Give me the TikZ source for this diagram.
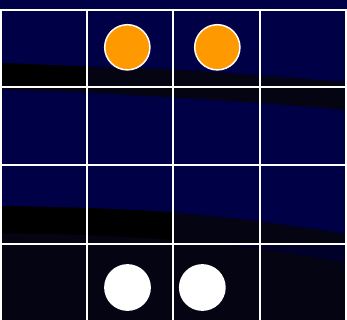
\documentclass[tikz,border=0pt]{standalone}
\usetikzlibrary{shapes}

\definecolor{nightsky}{RGB}{0,0,70}
\definecolor{haze}{RGB}{4,4,18}
\definecolor{dusk}{RGB}{0,0,40}
\definecolor{sunorange}{RGB}{255,153,0}

\tikzset{
  gridline/.style={white,line width=2pt},
  sun/.style={circle,fill=sunorange,draw=white,line width=1.5pt,minimum size=45.2pt,inner sep=0pt},
  moon/.style={circle,fill=white,minimum size=46.8pt,inner sep=0pt}
}

\def\bandone{plot[smooth] coordinates {(0,63) (86,66.5) (173,69.5) (260,75.5) (347,82)}
  -- plot[smooth] coordinates {(347,110) (260,103) (173,97.5) (86,92.5) (0,90)} -- cycle}
\def\bandtwo{plot[smooth] coordinates {(0,206) (86,208) (173,212.5) (260,221.5) (347,234)}
  -- plot[smooth] coordinates {(347,263) (260,249) (173,240) (86,235) (0,233)} -- cycle}

\begin{document}
\begin{tikzpicture}[x=1pt,y=-1pt]
\useasboundingbox (0,0) rectangle (347,320);
\fill[nightsky] (0,0) rectangle (347,320);

% upper hill
\fill[haze] \bandone;
\begin{scope}
\clip (0,10) rectangle (86.7,86.8);
\fill[black] \bandone;
\end{scope}

% lower hill
\fill[haze] plot[smooth] coordinates {(0,206) (86,208) (173,212.5) (260,221.5) (347,234)}
  -- (347,320) -- (0,320) -- cycle;
\begin{scope}
\clip (0,165) rectangle (173.1,243.6);
\fill[black] \bandtwo;
\end{scope}
\begin{scope}
\clip (173.1,243.6) rectangle (347,320);
\fill[dusk] \bandtwo;
\end{scope}

% grid
\foreach \gx in {0.7,86.7,173.1,259.5,345.7}
  \draw[gridline] (\gx,10) -- (\gx,320);
\foreach \gy in {10,86.8,165,243.6}
  \draw[gridline] (0,\gy) -- (347,\gy);

\node[sun] (S1) at (127.3,47.3) {};
\node[sun] (S2) at (217.3,47.3) {};
\node[moon] (M1) at (127.5,287.5) {};
\node[moon] (M2) at (202.3,287.5) {};
\end{tikzpicture}
\end{document}
